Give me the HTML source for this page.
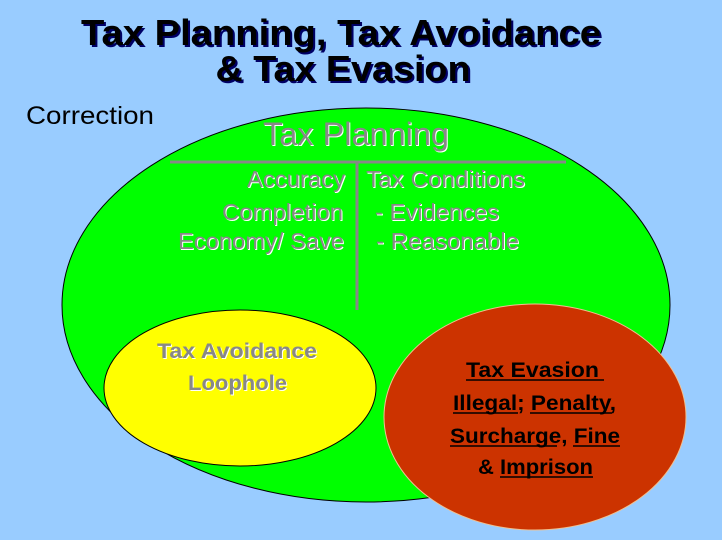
<!DOCTYPE html>
<html><head><style>
html,body{margin:0;padding:0;background:#99ccff;}
svg{display:block;font-family:"Liberation Sans",Arial,sans-serif;}
</style></head><body>
<svg width="722" height="540" viewBox="0 0 722 540" xmlns="http://www.w3.org/2000/svg">
<rect width="722" height="540" fill="#99ccff"/>
<g font-weight="bold" font-size="36" text-anchor="middle">
<text x="343" y="47" fill="#000066" textLength="520" lengthAdjust="spacingAndGlyphs">Tax Planning, Tax Avoidance</text>
<text x="341" y="45" fill="#000000" textLength="520" lengthAdjust="spacingAndGlyphs">Tax Planning, Tax Avoidance</text>
<text x="345" y="83" fill="#000066" textLength="255" lengthAdjust="spacingAndGlyphs">&amp; Tax Evasion</text>
<text x="343" y="81" fill="#000000" textLength="255" lengthAdjust="spacingAndGlyphs">&amp; Tax Evasion</text>
</g>
<text x="26" y="124" font-size="25" fill="#000" textLength="128" lengthAdjust="spacingAndGlyphs">Correction</text>
<ellipse cx="366" cy="305" rx="304" ry="197" fill="#00ff00" stroke="#000" stroke-width="1"/>
<line x1="170" y1="162" x2="566" y2="162" stroke="#888" stroke-width="3"/>
<line x1="357" y1="162" x2="357" y2="310" stroke="#888" stroke-width="3"/>
<g font-size="23" lengthAdjust="spacingAndGlyphs">
<g fill="#fff" transform="translate(1,1)">
<text x="263" y="145" font-size="32" textLength="186" lengthAdjust="spacingAndGlyphs">Tax Planning</text>
<text x="247" y="187" textLength="98" lengthAdjust="spacingAndGlyphs">Accuracy</text>
<text x="222" y="220" textLength="121" lengthAdjust="spacingAndGlyphs">Completion</text>
<text x="178" y="249" textLength="166" lengthAdjust="spacingAndGlyphs">Economy/ Save</text>
<text x="366" y="187" textLength="159" lengthAdjust="spacingAndGlyphs">Tax Conditions</text>
<text x="375" y="220" textLength="124" lengthAdjust="spacingAndGlyphs">- Evidences</text>
<text x="376" y="249" textLength="143" lengthAdjust="spacingAndGlyphs">- Reasonable</text>
</g>
<g fill="#888">
<text x="263" y="145" font-size="32" textLength="186" lengthAdjust="spacingAndGlyphs">Tax Planning</text>
<text x="247" y="187" textLength="98" lengthAdjust="spacingAndGlyphs">Accuracy</text>
<text x="222" y="220" textLength="121" lengthAdjust="spacingAndGlyphs">Completion</text>
<text x="178" y="249" textLength="166" lengthAdjust="spacingAndGlyphs">Economy/ Save</text>
<text x="366" y="187" textLength="159" lengthAdjust="spacingAndGlyphs">Tax Conditions</text>
<text x="375" y="220" textLength="124" lengthAdjust="spacingAndGlyphs">- Evidences</text>
<text x="376" y="249" textLength="143" lengthAdjust="spacingAndGlyphs">- Reasonable</text>
</g>
</g>
<ellipse cx="240" cy="388" rx="136" ry="78" fill="#ffff00" stroke="#000" stroke-width="1"/>
<g font-size="21" font-weight="bold">
<text x="158" y="359" fill="#fff" textLength="160" lengthAdjust="spacingAndGlyphs">Tax Avoidance</text>
<text x="157" y="358" fill="#888" textLength="160" lengthAdjust="spacingAndGlyphs">Tax Avoidance</text>
<text x="189" y="391" fill="#fff" textLength="99" lengthAdjust="spacingAndGlyphs">Loophole</text>
<text x="188" y="390" fill="#888" textLength="99" lengthAdjust="spacingAndGlyphs">Loophole</text>
</g>
<ellipse cx="535" cy="417" rx="151" ry="113" fill="#cc3300" stroke="#f0c090" stroke-width="1"/>
<g font-size="21" font-weight="bold" fill="#000" stroke="#000" stroke-width="1.5">
<text x="466" y="377" stroke="none" textLength="133" lengthAdjust="spacingAndGlyphs">Tax Evasion</text>
<line x1="466" y1="380" x2="604" y2="380"/>
<text x="453" y="410" stroke="none" textLength="163" lengthAdjust="spacingAndGlyphs">Illegal; Penalty,</text>
<line x1="453" y1="413" x2="518" y2="413"/>
<line x1="530" y1="413" x2="612" y2="413"/>
<text x="450" y="443" stroke="none" textLength="170" lengthAdjust="spacingAndGlyphs">Surcharge, Fine</text>
<line x1="450" y1="446" x2="557" y2="446"/>
<line x1="573" y1="446" x2="620" y2="446"/>
<text x="478" y="474" stroke="none" textLength="115" lengthAdjust="spacingAndGlyphs">&amp; Imprison</text>
<line x1="500" y1="477" x2="593" y2="477"/>
</g>
</svg>
</body></html>
